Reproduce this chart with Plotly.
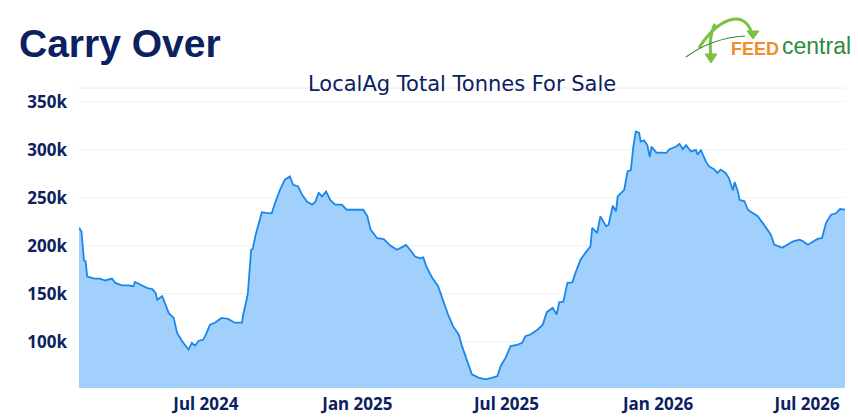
import plotly.graph_objects as go

# LocalAg total tonnes for sale (thousands of tonnes)
dates = [
    "2024-01-29", "2024-02-01", "2024-02-04", "2024-02-06", "2024-02-08", "2024-02-13",
    "2024-02-17", "2024-02-23", "2024-03-01", "2024-03-09", "2024-03-13", "2024-03-21",
    "2024-03-29", "2024-04-04", "2024-04-06", "2024-04-14", "2024-04-21", "2024-04-27",
    "2024-05-01", "2024-05-03", "2024-05-09", "2024-05-13", "2024-05-17", "2024-05-23",
    "2024-05-27", "2024-06-02", "2024-06-10", "2024-06-14", "2024-06-18", "2024-06-22",
    "2024-06-28", "2024-07-02", "2024-07-06", "2024-07-12", "2024-07-20", "2024-07-28",
    "2024-08-05", "2024-08-14", "2024-08-15", "2024-08-20", "2024-08-21", "2024-08-25",
    "2024-08-27", "2024-08-30", "2024-09-02", "2024-09-07", "2024-09-12", "2024-09-19",
    "2024-09-23", "2024-09-29", "2024-10-05", "2024-10-11", "2024-10-15", "2024-10-21",
    "2024-10-26", "2024-11-01", "2024-11-07", "2024-11-11", "2024-11-15", "2024-11-19",
    "2024-11-24", "2024-11-29", "2024-12-05", "2024-12-13", "2024-12-19", "2024-12-30",
    "2025-01-08", "2025-01-13", "2025-01-17", "2025-01-25", "2025-02-02", "2025-02-10",
    "2025-02-18", "2025-02-26", "2025-03-01", "2025-03-06", "2025-03-12", "2025-03-18",
    "2025-03-22", "2025-03-26", "2025-04-02", "2025-04-09", "2025-04-15", "2025-04-21",
    "2025-04-27", "2025-05-04", "2025-05-08", "2025-05-14", "2025-05-20", "2025-05-28",
    "2025-06-06", "2025-06-14", "2025-06-20", "2025-06-24", "2025-06-30", "2025-07-06",
    "2025-07-14", "2025-07-20", "2025-07-24", "2025-07-30", "2025-08-08", "2025-08-14",
    "2025-08-19", "2025-08-26", "2025-08-31", "2025-09-03", "2025-09-08", "2025-09-13",
    "2025-09-19", "2025-09-23", "2025-09-29", "2025-10-05", "2025-10-11", "2025-10-13",
    "2025-10-19", "2025-10-23", "2025-10-30", "2025-11-02", "2025-11-07", "2025-11-11",
    "2025-11-13", "2025-11-21", "2025-11-25", "2025-11-29", "2025-12-02", "2025-12-05",
    "2025-12-09", "2025-12-11", "2025-12-15", "2025-12-19", "2025-12-22", "2025-12-24",
    "2025-12-30", "2026-01-11", "2026-01-15", "2026-01-23", "2026-01-27", "2026-01-31",
    "2026-02-04", "2026-02-10", "2026-02-16", "2026-02-18", "2026-02-22", "2026-02-28",
    "2026-03-04", "2026-03-10", "2026-03-14", "2026-03-18", "2026-03-24", "2026-03-28",
    "2026-04-02", "2026-04-04", "2026-04-08", "2026-04-10", "2026-04-16", "2026-04-20",
    "2026-04-26", "2026-05-02", "2026-05-08", "2026-05-14", "2026-05-18", "2026-05-22",
    "2026-05-28", "2026-06-01", "2026-06-07", "2026-06-14", "2026-06-22", "2026-06-26",
    "2026-07-02", "2026-07-08", "2026-07-14", "2026-07-19", "2026-07-24", "2026-07-30",
    "2026-08-05", "2026-08-10", "2026-08-16",
]
tonnes_k = [
    219, 215, 185, 184, 168, 167,
    166, 166, 164, 166, 161.5, 159,
    159, 158, 162.5, 159, 156, 155,
    151, 144, 147.6, 139, 130, 125,
    109.6, 101, 92, 99, 96, 101,
    102.5, 109.6, 118, 120, 125, 124,
    120, 120, 127, 146, 151, 196,
    197, 210, 218.7, 235, 234.5, 234,
    244.7, 258.5, 269, 272.4, 263.7, 262,
    253, 246, 243, 246, 255.7, 251.5,
    256.8, 248, 243, 243, 237.7, 238,
    237.7, 231, 217, 208, 207, 200.3,
    196, 199.5, 201, 196, 189, 187,
    188, 178, 166.5, 158, 142.4, 128.6,
    116.4, 107.8, 95.6, 80, 66.2, 62.8,
    61, 62.8, 64.5, 75, 83.6, 95.6,
    97, 99, 106, 107.7, 113, 118,
    131, 135.5, 128.6, 141.4, 142, 161.5,
    162, 172.6, 185.8, 193, 199.6, 218.7,
    213.5, 230.8, 220.4, 222, 241.9, 236,
    251.6, 258.5, 277.6, 279, 303.5, 319,
    318, 308.7, 310, 305, 292.5, 303.5,
    297.3, 297, 300.8, 303.5, 306.3, 300.8,
    305, 298.4, 300, 295, 300, 288,
    282.8, 280, 276, 279.5, 276, 270.7,
    257.8, 266.5, 256.8, 248, 246.5, 237.7,
    234, 231, 224, 217, 211.7, 201.3,
    199.6, 198, 201.3, 204.8, 206.5, 204.8,
    201.3, 204.8, 207.5, 208, 224, 232.5,
    234, 238.4, 237.7,
]
tonnes = [v * 1000 for v in tonnes_k]

navy = "#0b2160"
OFF = 8  # page body margin: the figure starts 8px in from the window edge
W, H = 858 - OFF, 419 - OFF
L, R, T, B = 79 - OFF, 13, 88 - OFF, 31


def px(x, y):
    # page pixel position -> paper coords (used for the heading and logo)
    return (x - OFF - L) / (W - L - R), (H - B - (y - OFF)) / (H - T - B)


fig = go.Figure()
fig.add_trace(go.Scatter(
    x=dates, y=tonnes, mode="lines",
    line=dict(color="#1a87ea", width=1.8),
    fill="tozeroy", fillcolor="rgba(155,206,251,0.95)",
    hoverinfo="skip",
))

fig.update_layout(
    width=W, height=H,
    margin=dict(l=L, r=R, t=T, b=B, autoexpand=False),
    paper_bgcolor="white", plot_bgcolor="white",
    showlegend=False,
    font=dict(family="Liberation Sans, Arial", color=navy),
    xaxis=dict(
        range=["2024-01-29", "2026-08-16"],
        tickvals=["2024-07-01", "2025-01-01", "2025-07-01", "2026-01-01", "2026-07-01"],
        ticktext=["<b>Jul 2024</b>", "<b>Jan 2025</b>", "<b>Jul 2025</b>",
                  "<b>Jan 2026</b>", "<b>Jul 2026</b>"],
        showgrid=False, zeroline=False, showline=False, ticks="",
        automargin=False, ticklabelstandoff=4,
        tickfont=dict(size=17, family="Noto Sans", color=navy),
    ),
    yaxis=dict(
        range=[52000, 364500],
        tickvals=[100000, 150000, 200000, 250000, 300000, 350000],
        ticktext=["<b>100k</b>", "<b>150k</b>", "<b>200k</b>", "<b>250k</b>",
                  "<b>300k</b>", "<b>350k</b>"],
        showgrid=True, gridcolor="#f1f1f1", gridwidth=1,
        zeroline=False, showline=False, ticks="",
        automargin=False, ticklabelstandoff=11,
        tickfont=dict(size=17, family="Noto Sans", color=navy),
    ),
)

# thin line along the top of the plot area
fig.add_shape(type="line", xref="paper", yref="paper", x0=0, x1=1, y0=1, y1=1,
              line=dict(color="#ececec", width=1))

# chart title, sitting on the top line
fig.add_annotation(text="LocalAg Total Tonnes For Sale", xref="paper", yref="paper",
                   x=px(461.5, 0)[0], y=px(0, 83.5)[1], xanchor="center", yanchor="middle",
                   showarrow=False,
                   font=dict(size=21, color=navy, family="DejaVu Sans"))

# big heading
fig.add_annotation(text="<b>Carry Over</b>", xref="paper", yref="paper",
                   x=px(17, 0)[0], y=px(0, 43)[1], xanchor="left", yanchor="middle",
                   showarrow=False,
                   font=dict(size=39, color=navy, family="Liberation Sans, Arial"))

# FEEDcentral logo
fig.add_annotation(text="<b>FEED</b>", xref="paper", yref="paper",
                   x=px(729, 0)[0], y=px(0, 48.5)[1], xanchor="left", yanchor="middle",
                   showarrow=False,
                   font=dict(size=18, color="#f28c28", family="Liberation Sans, Arial"))
fig.add_annotation(text="central", xref="paper", yref="paper",
                   x=px(780, 0)[0], y=px(0, 46)[1], xanchor="left", yanchor="middle",
                   showarrow=False,
                   font=dict(size=23, color="#2e8b3e", family="Liberation Sans, Arial"))

green = "#7cc242"
arcs = [
    [(699, 48), (718, 18), (745, 8), (752, 34)],
    [(715, 24), (709, 36), (710, 48), (711, 58)],
]
for pts in arcs:
    (x0, y0), (x1, y1), (x2, y2), (x3, y3) = [px(*p) for p in pts]
    fig.add_shape(type="path", xref="paper", yref="paper",
                  path=f"M {x0},{y0} C {x1},{y1} {x2},{y2} {x3},{y3}",
                  line=dict(color=green, width=3))
for tip, a, b in [((753, 39), (747, 31), (759, 31)), ((711, 63), (705, 54), (717, 54))]:
    (tx, ty), (ax, ay), (bx, by) = px(*tip), px(*a), px(*b)
    fig.add_shape(type="path", xref="paper", yref="paper",
                  path=f"M {tx},{ty} L {ax},{ay} L {bx},{by} Z",
                  fillcolor=green, line=dict(color=green, width=1))
(sx0, sy0), (sx1, sy1), (sx2, sy2) = px(686, 57), px(712, 38), px(745, 36)
fig.add_shape(type="path", xref="paper", yref="paper",
              path=f"M {sx0},{sy0} Q {sx1},{sy1} {sx2},{sy2}",
              line=dict(color="#2e8b3e", width=1.2))

fig.write_html("out.html")
